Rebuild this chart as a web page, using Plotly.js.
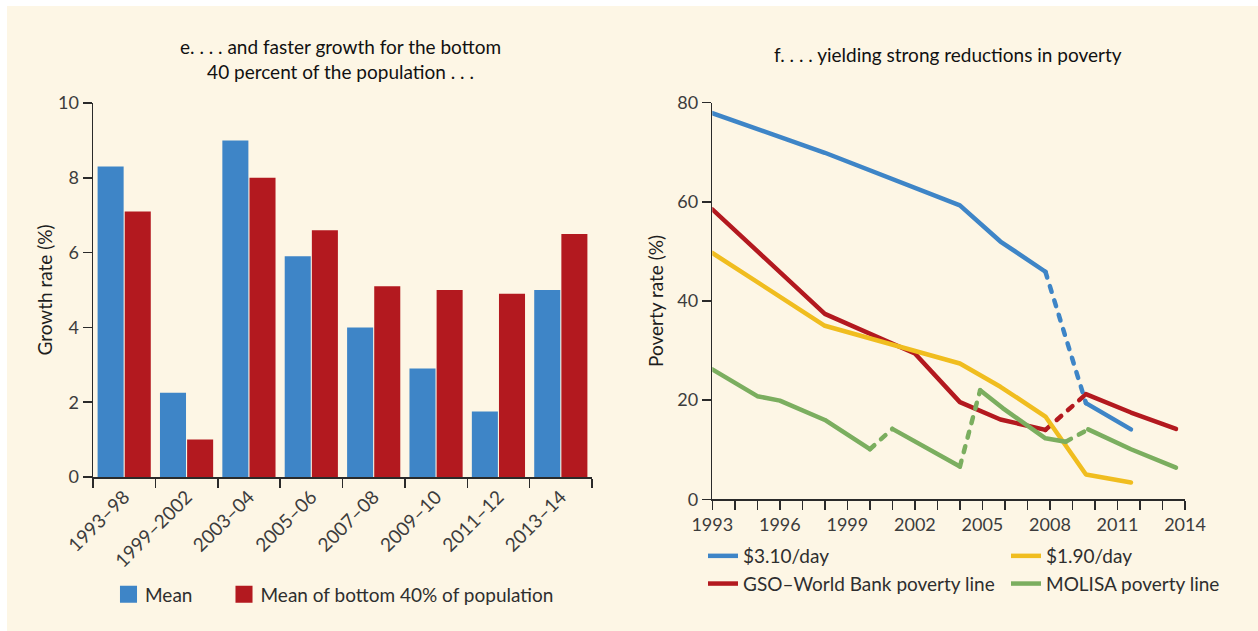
<!DOCTYPE html>
<html>
<head>
<meta charset="utf-8">
<script src="https://cdn.plot.ly/plotly-3.0.1.min.js"></script>
<style>
  html, body { margin: 0; padding: 0; background: #ffffff; }
  #chart { width: 1258px; height: 631px; }
  .scatterlayer .js-line { stroke-linecap: round; stroke-linejoin: round; }
  .legendlines path { stroke-linecap: butt; }
  g.legend .legendpoints path, g.legend2 .legendpoints path {
    transform: translate(23.5px, 0px) scale(1.42);
  }
</style>
</head>
<body>
<div id="chart"></div>
<script>
// ---------- Panel e: growth rates ----------
const periods = ['1993–98', '1999–2002', '2003–04', '2005–06', '2007–08', '2009–10', '2011–12', '2013–14'];
const meanGrowth = [8.3, 2.25, 9.0, 5.9, 4.0, 2.9, 1.75, 5.0];
const bottom40Growth = [7.1, 1.0, 8.0, 6.6, 5.1, 5.0, 4.9, 6.5];
const growthTicks = [0, 2, 4, 6, 8, 10];

// ---------- Panel f: poverty rates ----------
const usd310Years  = [1993, 1998, 2004, 2005.8, 2007.8, 2009.6, 2011.6];
const usd310Values = [77.9, 69.9, 59.3, 52.0, 45.9, 19.4, 14.1];
const usd310Dashed = [4];            // segment index i -> i+1 drawn dashed

const usd190Years  = [1993, 1998, 2004, 2005.8, 2007.8, 2009.6, 2011.6];
const usd190Values = [49.7, 35.0, 27.4, 22.7, 16.7, 5.0, 3.4];
const usd190Dashed = [];

const gsoYears  = [1993, 1998, 2002, 2004, 2005.8, 2007.8, 2009.6, 2011.6, 2013.6];
const gsoValues = [58.5, 37.4, 29.4, 19.6, 16.1, 14.0, 21.2, 17.5, 14.2];
const gsoDashed = [5];

const molisaYears  = [1993, 1995, 1996, 1998, 2000, 2001, 2004, 2004.9, 2005.9, 2007.8, 2008.7, 2009.7, 2011.6, 2013.6];
const molisaValues = [26.2, 20.8, 19.9, 16.0, 10.1, 14.2, 6.6, 22.0, 18.4, 12.3, 11.6, 14.1, 10.1, 6.4];
const molisaDashed = [4, 6, 10];

const yearTickVals = [1993, 1996, 1999, 2002, 2005, 2008, 2011, 2014];
const yearTickText = ['1993', '1996', '1999', '2002', '2005', '2008', '2011', '2014'];
const povertyTicks = [0, 20, 40, 60, 80];

// ---------- styling ----------
const W = 1258, H = 631;
const FONT = 'Lato, "Noto Sans", sans-serif';
const BLUE = '#3E85C7', RED = '#B3191F', YELLOW = '#F0BD1F', GREEN = '#7BAE5F';
const CREAM = '#FDF6E5';
const AXIS = '#2a2a2a', TICKTXT = '#3c3c3c';
const px = v => v / W;
const py = v => (H - v) / H;

function splitSeries(xs, ys, dashedIdx) {
  const solid = {x: [], y: []}, dashed = {x: [], y: []};
  for (let i = 0; i < xs.length; i++) {
    solid.x.push(xs[i]); solid.y.push(ys[i]);
    if (i < xs.length - 1 && dashedIdx.includes(i)) {
      solid.x.push((xs[i] + xs[i + 1]) / 2); solid.y.push(null);
      dashed.x.push(xs[i], xs[i + 1], (xs[i] + xs[i + 1]) / 2);
      dashed.y.push(ys[i], ys[i + 1], null);
    }
  }
  return {solid, dashed};
}

function lineTraces(name, xs, ys, dashedIdx, color, legendId, rank) {
  const s = splitSeries(xs, ys, dashedIdx);
  const out = [{
    type: 'scatter', mode: 'lines', name: name, x: s.solid.x, y: s.solid.y,
    xaxis: 'x2', yaxis: 'y2', connectgaps: false,
    line: {color: color, width: 4.5}, legend: legendId, legendrank: rank
  }];
  if (s.dashed.x.length) {
    out.push({
      type: 'scatter', mode: 'lines', name: name, x: s.dashed.x, y: s.dashed.y,
      xaxis: 'x2', yaxis: 'y2', connectgaps: false, showlegend: false,
      line: {color: color, width: 4.5, dash: '6px,9px'}
    });
  }
  return out;
}

const traces = [
  {type: 'bar', name: 'Mean', x: periods, y: meanGrowth, marker: {color: BLUE},
   xaxis: 'x', yaxis: 'y', legend: 'legend'},
  {type: 'bar', name: 'Mean of bottom 40% of population', x: periods, y: bottom40Growth,
   marker: {color: RED}, xaxis: 'x', yaxis: 'y', legend: 'legend2'},
  ...lineTraces('$3.10/day', usd310Years, usd310Values, usd310Dashed, BLUE, 'legend3', 1),
  ...lineTraces('GSO–World Bank poverty line', gsoYears, gsoValues, gsoDashed, RED, 'legend3', 2),
  ...lineTraces('$1.90/day', usd190Years, usd190Values, usd190Dashed, YELLOW, 'legend4', 1),
  ...lineTraces('MOLISA poverty line', molisaYears, molisaValues, molisaDashed, GREEN, 'legend4', 2)
];

const legendBase = {
  orientation: 'v', bgcolor: 'rgba(0,0,0,0)', borderwidth: 0,
  font: {family: FONT, size: 19, color: '#2e2e2e'},
  xanchor: 'left', yanchor: 'middle', traceorder: 'normal'
};

const layout = {
  width: W, height: H,
  margin: {l: 0, r: 0, t: 0, b: 0, pad: 0},
  paper_bgcolor: '#ffffff', plot_bgcolor: 'rgba(0,0,0,0)',
  font: {family: FONT, color: TICKTXT},
  barmode: 'group', bargap: 0.13, bargroupgap: 0.04,
  xaxis: {
    domain: [px(93), px(592)], anchor: 'y', type: 'category',
    showline: true, linecolor: AXIS, linewidth: 1.5,
    ticks: 'outside', tickson: 'boundaries', ticklen: 9, tickwidth: 1.5, tickcolor: AXIS,
    tickangle: -45, tickfont: {family: FONT, size: 19, color: TICKTXT},
    showgrid: false, zeroline: false, fixedrange: true
  },
  yaxis: {
    domain: [py(477), py(103)], anchor: 'x', range: [0, 10],
    tickvals: growthTicks, ticktext: growthTicks.map(String),
    showline: true, linecolor: AXIS, linewidth: 1.5,
    ticks: 'outside', ticklen: 9, tickwidth: 1.5, tickcolor: AXIS,
    tickfont: {family: FONT, size: 18, color: TICKTXT},
    showgrid: false, zeroline: false,
    title: {text: 'Growth rate (%)', font: {family: FONT, size: 19, color: '#1e1e1e'}, standoff: 0}
  },
  xaxis2: {
    domain: [px(712.3), px(1185)], anchor: 'y2', range: [1993, 2014],
    tickvals: yearTickVals, ticktext: yearTickText,
    showline: true, linecolor: AXIS, linewidth: 1.5,
    ticks: 'outside', ticklen: 9, tickwidth: 1.5, tickcolor: AXIS,
    minor: {dtick: 1, tick0: 1993, ticks: 'outside', ticklen: 9, tickwidth: 1.5, tickcolor: AXIS, showgrid: false},
    tickfont: {family: FONT, size: 18, color: TICKTXT},
    showgrid: false, zeroline: false
  },
  yaxis2: {
    domain: [py(499.3), py(102.7)], anchor: 'x2', range: [0, 80],
    tickvals: povertyTicks, ticktext: povertyTicks.map(String),
    showline: true, linecolor: AXIS, linewidth: 1.5,
    ticks: 'outside', ticklen: 9, tickwidth: 1.5, tickcolor: AXIS,
    tickfont: {family: FONT, size: 18, color: TICKTXT},
    showgrid: false, zeroline: false,
    title: {text: 'Poverty rate (%)', font: {family: FONT, size: 19, color: '#1e1e1e'}, standoff: 8}
  },
  legend:  Object.assign({}, legendBase, {x: px(105), y: py(594.5)}),
  legend2: Object.assign({}, legendBase, {x: px(220.5), y: py(594.5)}),
  legend3: Object.assign({}, legendBase, {x: px(703), y: py(570)}),
  legend4: Object.assign({}, legendBase, {x: px(1006), y: py(570)}),
  shapes: [{
    type: 'rect', xref: 'paper', yref: 'paper', layer: 'below',
    x0: px(7), x1: 1, y0: 0, y1: py(6), fillcolor: CREAM, line: {width: 0}
  }],
  annotations: [
    {xref: 'paper', yref: 'paper', x: px(340), y: py(59), xanchor: 'center', yanchor: 'middle',
     text: 'e. . . . and faster growth for the bottom<br>40 percent of the population . . .',
     showarrow: false, align: 'center',
     font: {family: FONT, size: 19, color: '#111111'}},
    {xref: 'paper', yref: 'paper', x: px(948), y: py(54), xanchor: 'center', yanchor: 'middle',
     text: 'f. . . . yielding strong reductions in poverty',
     showarrow: false, font: {family: FONT, size: 19, color: '#111111'}}
  ]
};

Plotly.newPlot('chart', traces, layout, {displayModeBar: false, staticPlot: true});
</script>
</body>
</html>
